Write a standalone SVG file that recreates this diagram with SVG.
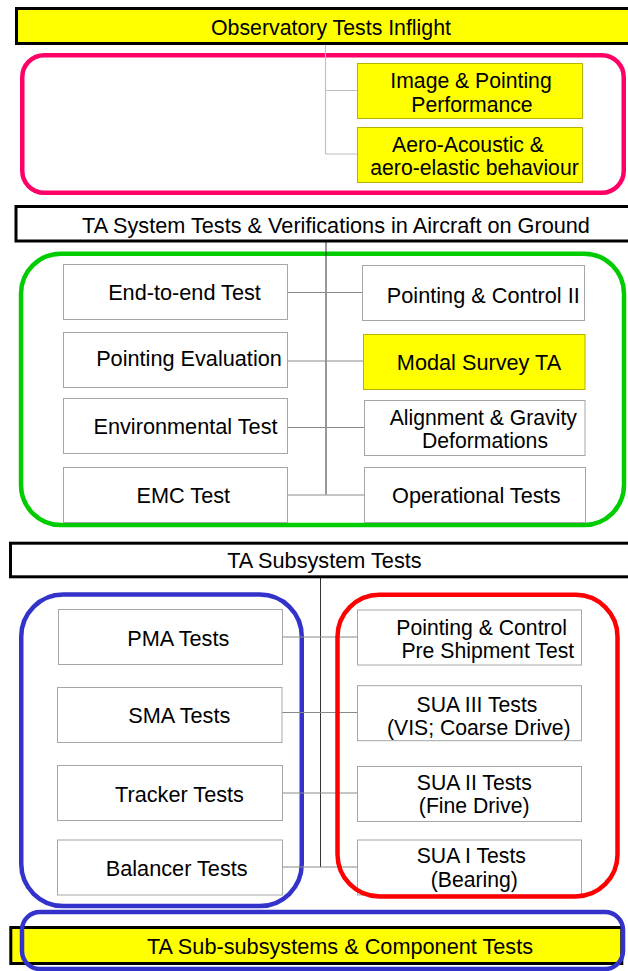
<svg xmlns="http://www.w3.org/2000/svg" width="628" height="971" viewBox="0 0 628 971">
<style>
text{font-family:"Liberation Sans",Arial,sans-serif;font-size:21.7px;fill:#000;text-anchor:middle}
text.m{font-size:21.2px}
.bar{stroke:#000;stroke-width:3}
.box{fill:#fff;stroke:#a6a6a6;stroke-width:1}
.ybox{fill:#ffff00;stroke:#b3b300;stroke-width:1}
.grp{fill:none;stroke-width:4.5}
.c1{stroke:#c0c0c0;stroke-width:1.2;fill:none}
.c2{stroke:#8a8a8a;stroke-width:1;fill:none}
.c3{stroke:#333;stroke-width:1;fill:none}
</style>
<rect width="628" height="971" fill="#fff"/>

<g id="groups">
<rect x="22.25" y="55.25" width="601.5" height="137.5" rx="22" class="grp" stroke="#ff0066"/>
<rect x="21" y="253.7" width="603" height="271.3" rx="40" class="grp" stroke="#00cc00"/>
<rect x="21.25" y="594.5" width="280.5" height="311.6" rx="42" class="grp" stroke="#3333cc"/>
</g>

<g id="connectors">
<path class="c1" d="M325.5 45V154M325.5 90.5H357M325.5 154H357"/>
<path class="c3" d="M326 242V494.5"/>
<path class="c2" d="M287 292.5H362M287 361H363M287 427.5H364M287 495H364"/>
<path class="c3" d="M320.5 574V867"/>
<path class="c2" d="M282 637H357M282 712.5H357M282 793H357M282 867H357"/>
</g>

<g id="bar-inflight">
<rect x="16.5" y="8.5" width="620" height="35" class="bar" fill="#ffff00"/>
<text x="331" y="35" style="font-size:21.3px">Observatory Tests Inflight</text>
</g>
<g id="n-image">
<rect x="357.5" y="63.5" width="225" height="55" class="ybox"/>
<text class="m" x="471" y="87.5">Image &amp; Pointing</text>
<text class="m" x="472" y="112">Performance</text>
</g>
<g id="n-aero">
<rect x="357.5" y="127.5" width="225" height="55" class="ybox"/>
<text class="m" x="468" y="151.5">Aero-Acoustic &amp;</text>
<text class="m" x="474.5" y="174.5">aero-elastic behaviour</text>
</g>

<g id="bar-system">
<rect x="16" y="206.5" width="620" height="34.5" class="bar" fill="#fff"/>
<text x="336" y="233">TA System Tests &amp; Verifications in Aircraft on Ground</text>
</g>
<g id="n-e2e">
<rect x="63.5" y="264.5" width="224" height="55" class="box"/>
<text x="184.5" y="300">End-to-end Test</text>
</g>
<g id="n-pointeval">
<rect x="63.5" y="332.5" width="224" height="55" class="box"/>
<text x="189" y="366">Pointing Evaluation</text>
</g>
<g id="n-env">
<rect x="63.5" y="398.5" width="224" height="55" class="box"/>
<text x="185.5" y="434.3">Environmental Test</text>
</g>
<g id="n-emc">
<rect x="63.5" y="467.5" width="224" height="55" class="box"/>
<text x="183.3" y="503.3">EMC Test</text>
</g>
<g id="n-pc2">
<rect x="362.5" y="265.5" width="222" height="55" class="box"/>
<text x="483.3" y="303.3">Pointing &amp; Control II</text>
</g>
<g id="n-modal">
<rect x="363.5" y="334.5" width="221.5" height="55" class="ybox"/>
<text x="479" y="370">Modal Survey TA</text>
</g>
<g id="n-align">
<rect x="364.5" y="400.5" width="220.5" height="55" class="box"/>
<text class="m" x="483.3" y="425.2">Alignment &amp; Gravity</text>
<text class="m" x="485" y="447.8">Deformations</text>
</g>
<g id="n-oper">
<rect x="364.5" y="467.5" width="221" height="55" class="box"/>
<text x="476.3" y="503.3">Operational Tests</text>
</g>

<g id="bar-subsystem">
<rect x="10.5" y="543.2" width="625" height="33.6" class="bar" fill="#fff"/>
<text x="324.4" y="568.3">TA Subsystem Tests</text>
</g>
<g id="n-pma">
<rect x="58.5" y="609.5" width="224" height="55" class="box"/>
<text x="178.3" y="645.7">PMA Tests</text>
</g>
<g id="n-sma">
<rect x="57.5" y="687.5" width="224.5" height="55" class="box"/>
<text x="179.3" y="722.7">SMA Tests</text>
</g>
<g id="n-tracker">
<rect x="57.5" y="765.5" width="225" height="55" class="box"/>
<text x="179.5" y="801.7">Tracker Tests</text>
</g>
<g id="n-balancer">
<rect x="57.5" y="840" width="225" height="55" class="box"/>
<text x="176.7" y="876">Balancer Tests</text>
</g>
<g id="n-pcship">
<rect x="357.5" y="610" width="224" height="55" class="box"/>
<text class="m" x="481.7" y="634.5">Pointing &amp; Control</text>
<text class="m" x="487.8" y="657.8">Pre Shipment Test</text>
</g>
<g id="n-sua3">
<rect x="357.5" y="685.7" width="224" height="55" class="box"/>
<text class="m" x="477" y="712.2">SUA III Tests</text>
<text class="m" x="478.8" y="735">(VIS; Coarse Drive)</text>
</g>
<g id="n-sua2">
<rect x="357.5" y="766.5" width="224" height="55" class="box"/>
<text class="m" x="474.3" y="789.5">SUA II Tests</text>
<text class="m" x="474.2" y="812.8">(Fine Drive)</text>
</g>
<g id="n-sua1">
<rect x="357.5" y="840" width="224" height="55" class="box"/>
<text class="m" x="471.3" y="863.2">SUA I Tests</text>
<text class="m" x="474.3" y="886.5">(Bearing)</text>
</g>
<rect id="grp-sua" x="337.5" y="594.8" width="280" height="301.7" rx="42" class="grp" stroke="#ff0000"/>

<g id="bar-component">
<rect x="10.8" y="927.5" width="611" height="36" class="bar" fill="#ffff00"/>
<text x="340" y="954">TA Sub-subsystems &amp; Component Tests</text>
</g>
<rect id="grp-component" x="22" y="912" width="601" height="57" rx="18" class="grp" stroke="#3333cc" stroke-width="4"/>
</svg>
